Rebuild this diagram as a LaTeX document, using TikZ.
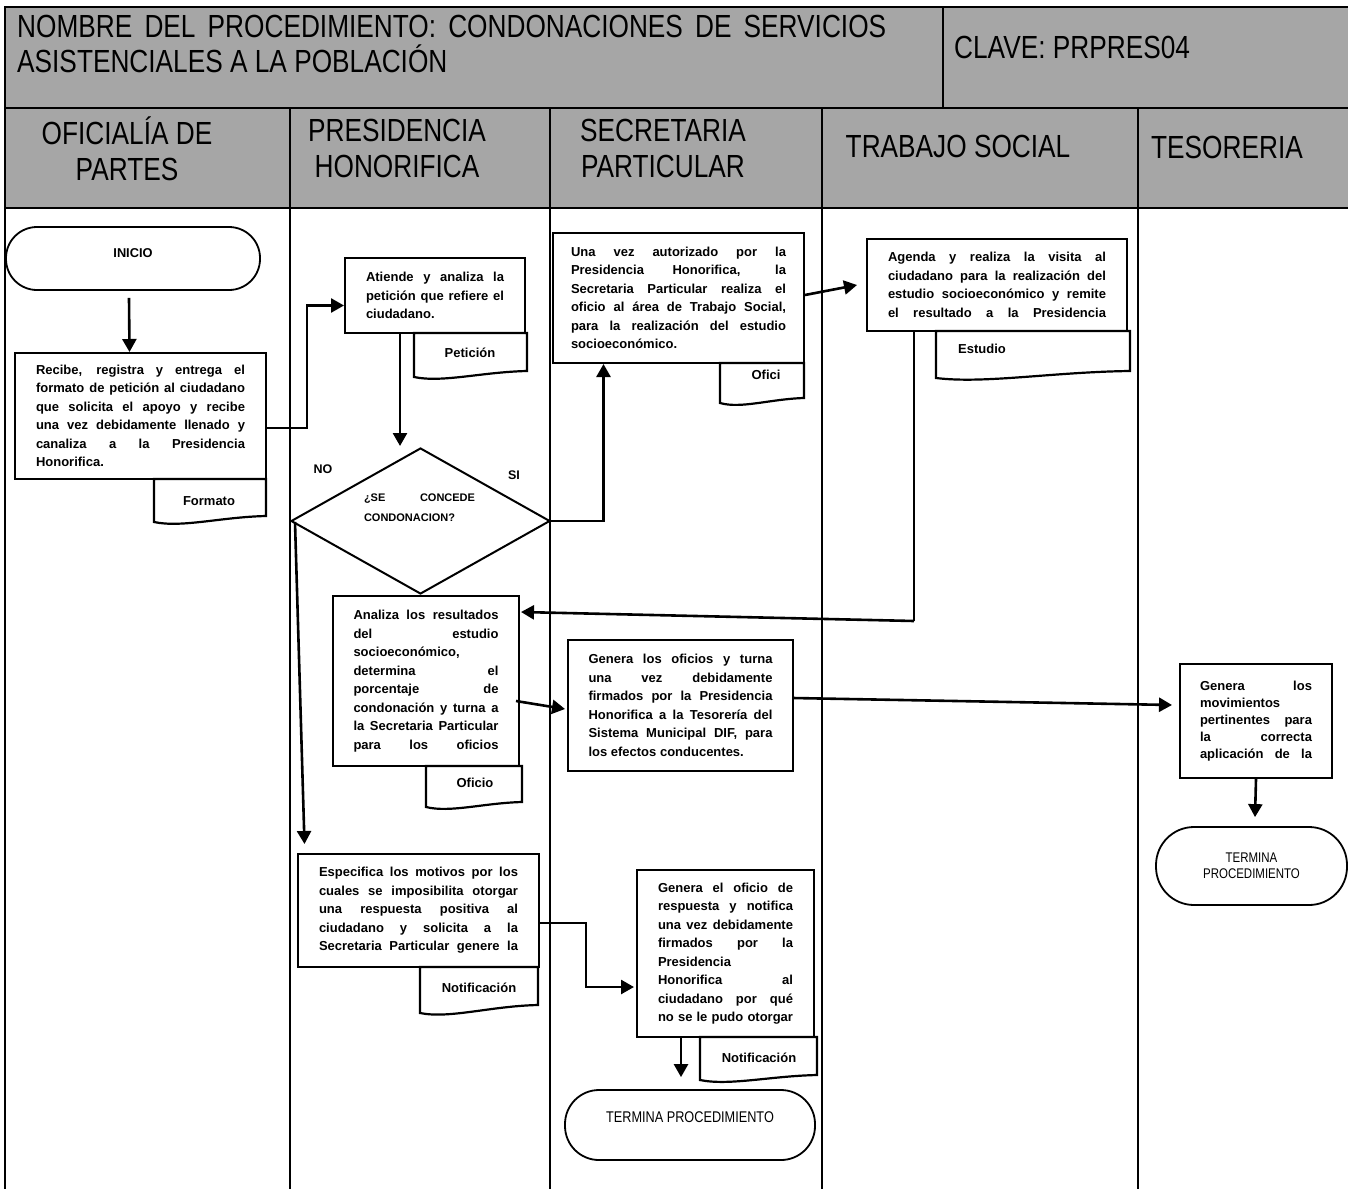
\documentclass[tikz,border=0pt]{standalone}
\usepackage{fontspec}
\setmainfont{Liberation Sans}
\newfontfamily\narrowfont[FakeStretch=0.82]{Liberation Sans}
\usetikzlibrary{arrows.meta,calc,shapes.geometric}
\definecolor{headgray}{RGB}{166,166,166}

% paragraph settings for justified box texts with hand-set line ends
\newcommand\tightpar{\hyphenpenalty=10000 \exhyphenpenalty=10000 \tolerance=10000 \hbadness=10000 }
\newcommand\bodytext{\bfseries\fontsize{13}{18.5}\selectfont\tightpar}
% a closing line spread over the full text width
\newcommand\fullline[2]{\makebox[#1pt][s]{#2}}

% document symbol: flat top, wavy bottom, label node
\newcommand\docsheet[9]{%
  \draw[docline, fill=white] (#2,#4) -- (#2,#5)
    .. controls ({#2+0.25*(#3-#2)},{#5+6}) and ({#2+0.6*(#3-#2)},{#6+1}) .. (#3,#6)
    -- (#3,#4) -- cycle;
  \node[doclabel] (#1) at (#7,#8) {#9};}

\tikzset{
  laneline/.style={line width=2pt},
  docline/.style={line width=2.2pt},
  arrowline/.style={line width=2.6pt,-{Triangle[length=13pt,width=14pt]}},
  thinline/.style={line width=1.2pt},
  headtext/.style={font=\narrowfont\fontsize{32}{35}\selectfont, inner sep=0pt},
  lanetext/.style={font=\narrowfont\fontsize{32}{36}\selectfont, inner sep=0pt, align=center},
  procbox/.style n args={3}{draw, line width=2pt, fill=white, inner sep=0pt,
    align=justify, text width=#1pt, minimum width=#2pt, minimum height=#3pt, font=\bodytext},
  termbox/.style n args={3}{draw, line width=1.8pt, fill=white, inner sep=0pt,
    minimum width=#1pt, minimum height=#2pt, rounded corners=#3pt},
  doclabel/.style={font=\bfseries\fontsize{13}{15}\selectfont, inner sep=0pt},
  answer/.style={font=\bfseries\fontsize{12.5}{14}\selectfont, inner sep=0pt},
}

\begin{document}
\begin{tikzpicture}[x=1pt,y=-1pt]
\useasboundingbox (0,0) rectangle (1348,1188);

% ---- title band and lane headers ----
\fill[headgray] (5,7) rectangle (1352,208);
\draw[laneline] (5,1192) -- (5,7) -- (1352,7);
\draw[laneline] (5,108) -- (1352,108);
\draw[laneline] (5,208) -- (1352,208);
\draw[laneline] (943,7) -- (943,108);
\foreach \lx in {290,550,822,1138} \draw[laneline] (\lx,108) -- (\lx,1192);

\node[headtext, anchor=west, align=left] (title) at (17,44)
  {\fullline{869}{NOMBRE DEL PROCEDIMIENTO: CONDONACIONES DE SERVICIOS}\\ASISTENCIALES A LA POBLACIÓN};
\node[headtext, anchor=west] (clave) at (954,47) {CLAVE: PRPRES04};

\node[lanetext] (laneA) at (127,149) {OFICIALÍA DE\\PARTES};
\node[lanetext] (laneB) at (397,148) {PRESIDENCIA\\HONORIFICA};
\node[lanetext] (laneC) at (663,148) {SECRETARIA\\PARTICULAR};
\node[lanetext] (laneD) at (958,146) {TRABAJO SOCIAL};
\node[lanetext] (laneE) at (1227,147) {TESORERIA};

% ---- Oficialía de Partes ----
\node[termbox={254}{63}{31}, font=\bfseries\fontsize{12.8}{15}\selectfont] (inicio) at (133,258.5)
  {\raisebox{10pt}{INICIO}};
\node[procbox={209}{251}{126}] (recibe) at (140.5,416)
  {Recibe, registra y entrega el\linebreak formato de petición al ciudadano\linebreak
   que solicita el apoyo y recibe\linebreak una vez debidamente llenado y\linebreak
   canaliza a la Presidencia\linebreak Honorifica.};
\docsheet{dformato}{154}{266}{479}{522}{516}{209}{501}{Formato}

% ---- Presidencia Honorifica ----
\node[procbox={138}{180}{75}] (atiende) at (435,295.5)
  {Atiende y analiza la\linebreak petición que refiere el\linebreak ciudadano.};
\docsheet{dpeticion}{414}{527}{333}{377}{371}{470}{353}{Petición}

\node[draw, line width=2pt, diamond, minimum width=259pt, minimum height=146pt, inner sep=0pt] (dec) at (420.5,521) {};
\node[fill=white, inner xsep=14pt, inner ysep=4pt, text width=111pt, align=justify,
  font=\bfseries\fontsize{11}{20}\selectfont\tightpar] (dectxt) at (419.5,508)
  {¿SE CONCEDE\linebreak CONDONACION?};
\node[answer] (nolbl) at (323,469) {NO};
\node[answer] (silbl) at (514,475) {SI};

\node[procbox={145}{186}{170}] (analiza) at (426,681)
  {Analiza los resultados\linebreak del estudio\linebreak socioeconómico,\linebreak
   determina el\linebreak porcentaje de\linebreak condonación y turna a\linebreak
   la Secretaria Particular\linebreak \fullline{145}{para los oficios}};
\docsheet{doficio}{426}{522}{766}{807}{802}{475}{783}{Oficio}

\node[procbox={199}{241}{113}] (espec) at (418.5,910.5)
  {Especifica los motivos por los\linebreak cuales se imposibilita otorgar\linebreak
   una respuesta positiva al\linebreak ciudadano y solicita a la\linebreak
   \fullline{199}{Secretaria Particular genere la}};
\docsheet{dnotif}{420}{538}{967}{1013}{1005}{479}{988}{Notificación}

% ---- Secretaria Particular ----
\node[procbox={215}{251}{130}] (unavez) at (678.5,298)
  {Una vez autorizado por la\linebreak Presidencia Honorifica, la\linebreak
   Secretaria Particular realiza el\linebreak oficio al área de Trabajo Social,\linebreak
   para la realización del estudio\linebreak socioeconómico.};
\docsheet{dofici}{720}{804}{363}{403}{398}{766}{375}{Ofici}

\node[procbox={184}{225}{131}] (genof) at (680.5,705.5)
  {Genera los oficios y turna\linebreak una vez debidamente\linebreak
   firmados por la Presidencia\linebreak Honorifica a la Tesorería del\linebreak
   Sistema Municipal DIF, para\linebreak los efectos conducentes.};

\node[procbox={135}{177}{167}] (geno) at (725.5,953.5)
  {Genera el oficio de\linebreak respuesta y notifica\linebreak
   una vez debidamente\linebreak firmados por la\linebreak Presidencia\linebreak
   Honorifica al\linebreak ciudadano por qué\linebreak \fullline{135}{no se le pudo otorgar}};
\docsheet{dnotifb}{700}{817}{1037}{1080}{1075}{759}{1058}{Notificación}

\node[termbox={250}{70}{34}, font=\narrowfont\fontsize{15.5}{17}\selectfont] (termL) at (690,1125)
  {\raisebox{16pt}{TERMINA PROCEDIMIENTO}};

% ---- Trabajo Social ----
\node[procbox={218}{260}{92}] (agenda) at (997,285)
  {Agenda y realiza la visita al\linebreak ciudadano para la realización del\linebreak
   estudio socioeconómico y remite\linebreak \fullline{218}{el resultado a la Presidencia}};
\docsheet{destudio}{936}{1130}{331}{378}{371}{982}{349}{Estudio}

% ---- Tesoreria ----
\node[procbox={112}{152}{114}, font={\bodytext\fontsize{13}{17}\selectfont}] (genmov) at (1256,721)
  {Genera los\linebreak movimientos\linebreak pertinentes para\linebreak
   la correcta\linebreak \fullline{112}{aplicación de la}};
\node[termbox={191}{78}{38}, align=center, font=\narrowfont\fontsize{14}{16}\selectfont] (termR) at (1251.5,866)
  {TERMINA\\PROCEDIMIENTO};

% ---- connectors ----
\draw[arrowline] ($(inicio.south)+(-4,7)$) -- ($(recibe.north)+(-11,0)$);
\draw[arrowline] ($(recibe.east)+(0,12)$) -- ++(40,0) |- ($(atiende.west)+(0,10)$);
\draw[arrowline] ($(atiende.south)+(-35,0)$) -- ($(dec.north)+(-20.5,-1)$);
\draw[arrowline] (dec.east) -| ($(unavez.south)+(-75,0)$);
\draw[arrowline] ($(dec.west)+(5,1)$) -- ($(espec.north)+(-114,-9)$);
\draw[arrowline] ($(unavez.east)+(0,-3)$) -- ($(agenda.west)+(-9,0)$);
\coordinate (turn) at (914,621);
\draw[thinline] (agenda.south -| turn) -- (turn);
\draw[arrowline] (turn) -- ($(analiza.east)+(1,-69)$);
\draw[arrowline] ($(analiza.east)+(-4,20)$) -- ($(genof.west)+(-2,3.5)$);
\draw[arrowline] ($(genof.east)+(-1,-7.5)$) -- ($(genmov.west)+(-7,-16)$);
\draw[arrowline] (genmov.south) -- ($(termR.north)+(3.5,-9)$);
\draw[arrowline] ($(espec.east)+(0,12.5)$) -- ++(46,0) |- ($(geno.west)+(-2,33.5)$);
\draw[arrowline] ($(geno.south)+(-44.5,0)$) -- ($(termL.north)+(-9,-12)$);
\end{tikzpicture}
\end{document}
